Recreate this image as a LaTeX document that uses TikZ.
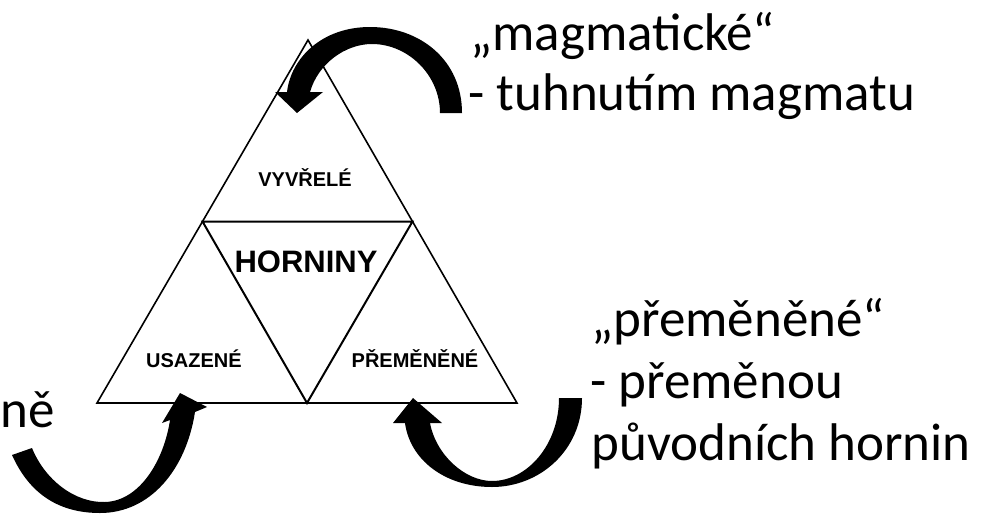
\documentclass[tikz,border=0pt]{standalone}
\usepackage{fontspec}
\setmainfont{Carlito}
\newfontfamily\rockfont{Liberation Sans}
\usetikzlibrary{calc}
\tikzset{
rocklabel/.style={font=\rockfont\bfseries\fontsize{10}{12}\selectfont,inner sep=0pt,anchor=base},
rocktitle/.style={font=\rockfont\bfseries\fontsize{15.5}{18}\selectfont,inner sep=0pt,anchor=base},
notetext/.style={font=\fontsize{26.5}{31}\selectfont,inner sep=0pt,anchor=base west},
rockedge/.style={draw=black,line width=0.8pt,line join=miter},
inneredge/.style={draw=black,line width=1pt,line join=miter},
bentarrow/.style={fill=black,draw=none}
}

\begin{document}
\begin{tikzpicture}[x=0.5pt,y=-0.5pt]
\useasboundingbox (0,0) rectangle (990,514);
% triangle corners
\coordinate (apex) at (308,40);
\coordinate (baseL) at (97,403);
\coordinate (baseR) at (517,403);
\coordinate (midL) at ($(apex)!0.5!(baseL)$);
\coordinate (midR) at ($(apex)!0.5!(baseR)$);
\coordinate (midB) at ($(baseL)!0.5!(baseR)$);
\draw[rockedge] (apex) -- (baseR) -- (baseL) -- cycle;
\draw[inneredge] (midL) -- (midR) -- (midB) -- cycle;
% labels
\node[rocklabel] (vyvrele) at (305,186) {VYVŘELÉ};
\node[rocktitle] (horniny) at (306,272) {HORNINY};
\node[rocklabel] (usazene) at (194,367) {USAZENÉ};
\node[rocklabel] (premenene) at (415,367) {PŘEMĚNĚNÉ};
% curved arrows
\fill[bentarrow] (440,113) -- (462,113) .. controls (462,60) and (420,27) .. (370,27)
  .. controls (322,27) and (291,58) .. (287,92) -- (275,92) -- (297,113) -- (323,92) -- (310,92)
  .. controls (318,64) and (345,44) .. (372,44) .. controls (408,44) and (440,75) .. (440,113) -- cycle;
\fill[bentarrow] (32,448) -- (12,455) .. controls (30,495) and (60,513) .. (100,513)
  .. controls (150,513) and (186,470) .. (195,412) -- (207,407) -- (180,393) -- (162,423) -- (170,420)
  .. controls (164,460) and (140,501) .. (105,502) .. controls (75,503) and (45,480) .. (32,448) -- cycle;
\fill[bentarrow] (559,398) -- (582,398) .. controls (582,450) and (540,487) .. (492,487)
  .. controls (445,487) and (410,460) .. (405,423) -- (393,423) -- (413,398) -- (442,423) -- (430,423)
  .. controls (436,455) and (465,481) .. (492,481) .. controls (527,481) and (559,445) .. (559,398) -- cycle;
% side notes
\node[notetext] (magma1) at (470,50) {„magmatické“};
\node[notetext] (magma2) at (468,110) {- tuhnutím magmatu};
\node[notetext] (meta1) at (591,336) {„přeměněné“};
\node[notetext] (meta2) at (590,398) {- přeměnou};
\node[notetext] (meta3) at (591,460) {původních hornin};
\node[notetext] (sedi) at (0,427) {ně};
\end{tikzpicture}
\end{document}
